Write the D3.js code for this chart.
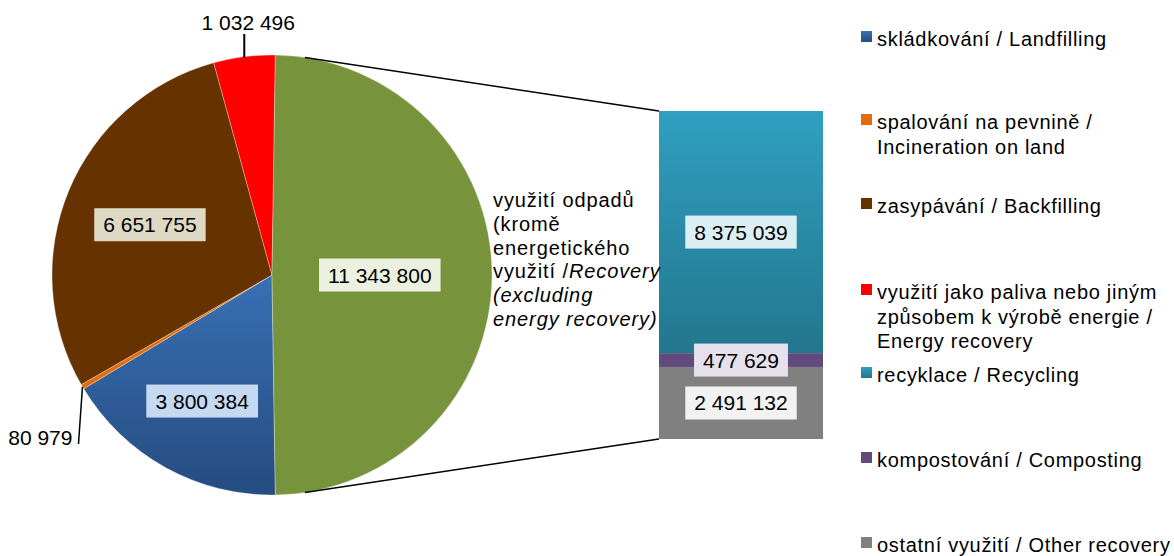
<!DOCTYPE html>
<html><head><meta charset="utf-8">
<script src="https://cdn.jsdelivr.net/npm/d3@7/dist/d3.min.js"></script>
<style>
body{margin:0;background:#fff;}
svg{display:block;font-family:"Liberation Sans",Arial,sans-serif;}
</style></head>
<body><svg id="chart" width="1174" height="556"></svg>
<script>
// ---- data ----
const pieCategories = ["skládkování / Landfilling","spalování na pevnině / Incineration on land","zasypávání / Backfilling","využití jako paliva nebo jiným způsobem k výrobě energie / Energy recovery","využití odpadů (kromě energetického využití) / Recovery (excluding energy recovery)"];
const pieValues = [3800384, 80979, 6651755, 1032496, 11343800];
const barCategories = ["recyklace / Recycling","kompostování / Composting","ostatní využití / Other recovery"];
const barValues = [8375039, 477629, 2491132];
const legendLabels = [
  ["skládkování / Landfilling"],
  ["spalování na pevnině /","Incineration on land"],
  ["zasypávání / Backfilling"],
  ["využití jako paliva nebo jiným","způsobem k výrobě energie /","Energy recovery"],
  ["recyklace / Recycling"],
  ["kompostování / Composting"],
  ["ostatní využití / Other recovery"]
];

// ---- styles ----
const pieColors = ["url(#gBlue)","#e46c0a","#663300","#ff0000","#77933c"];
const barColors = ["url(#gTeal)","#604a7b","#808080"];
const legendColors = ["url(#gBlue)","#e46c0a","#663300","#ff0000","url(#gTeal)","#604a7b","#808080"];
const boxFill = {0:"#c5d9f1",2:"#ddd9c4",4:"#ebf1de"};
const barBoxFill = ["#daeef3","#e5e0ec","#f2f2f2"];

const fmt = d3.formatLocale({decimal:",",thousands:" ",grouping:[3],currency:["",""]}).format(",d");
const svg = d3.select("#chart");
const defs = svg.append("defs");
function grad(id, c1, c2){
  const g = defs.append("linearGradient").attr("id",id).attr("x1",0).attr("y1",0).attr("x2",0).attr("y2",1);
  g.append("stop").attr("offset","0%").attr("stop-color",c1);
  g.append("stop").attr("offset","100%").attr("stop-color",c2);
}
grad("gBlue","#3870b5","#264c80");
grad("gTeal","#30a0c0","#23768e");

// ---- pie ----
const cx = 272, cy = 275, R = 220;
const total = d3.sum(pieValues);
const f = pieValues[4]/total;
const start = Math.PI/2 + Math.PI*f;
const pie = d3.pie().sort(null).value(d=>d).startAngle(start).endAngle(start + 2*Math.PI);
const arcs = pie(pieValues);
const arc = d3.arc().innerRadius(0).outerRadius(R);
const gp = svg.append("g").attr("transform",`translate(${cx},${cy})`);
gp.selectAll("path").data(arcs).join("path")
  .attr("d",arc).attr("fill",(d,i)=>pieColors[i])
  .attr("stroke","#ffffff").attr("stroke-opacity",0.5).attr("stroke-width",0.6);

// ---- bar ----
const barX = 659, barW = 164, barTop = 111, barBottom = 439;
const barTotal = d3.sum(barValues);
const y = d3.scaleLinear().domain([0, barTotal]).range([barBottom, barTop]);
// stack from bottom: other, composting, recycling
const stackOrder = [2,1,0];
let acc = 0; const segs = [];
stackOrder.forEach(i=>{ segs[i] = {i, y0:acc, y1:acc+barValues[i]}; acc += barValues[i]; });
const gb = svg.append("g");
gb.selectAll("rect").data(segs).join("rect")
  .attr("x",barX).attr("width",barW)
  .attr("y",d=>y(d.y1)).attr("height",d=>y(d.y0)-y(d.y1))
  .attr("fill",d=>barColors[d.i]);

// ---- connector lines (tangents from bar corners to circle) ----
function tangent(px, py, upper){
  const dx = px-cx, dy = py-cy, d = Math.hypot(dx,dy);
  const base = Math.atan2(dy,dx), a = Math.acos(R/d);
  const t = upper ? base - a : base + a;
  return [cx + R*Math.cos(t), cy + R*Math.sin(t)];
}
const tTop = tangent(barX, barTop, true), tBot = tangent(barX, barBottom, false);
svg.append("line").attr("x1",tTop[0]).attr("y1",tTop[1]).attr("x2",barX).attr("y2",barTop).attr("stroke","#000").attr("stroke-width",1.5);
svg.append("line").attr("x1",tBot[0]).attr("y1",tBot[1]).attr("x2",barX).attr("y2",barBottom).attr("stroke","#000").attr("stroke-width",1.5);

// ---- boxed labels ----
function boxLabel(g, x, yc, text, fill){
  const t = g.append("text").attr("x",x).attr("y",yc).attr("text-anchor","middle")
    .attr("dominant-baseline","central").attr("font-size",21).attr("fill","#000").text(text);
  const bb = t.node().getBBox();
  g.insert("rect","text:last-of-type").attr("x",x - bb.width/2 - 9).attr("y",yc-16.5)
    .attr("width",bb.width+18).attr("height",33).attr("fill",fill);
  t.raise();
}
const labelR = {0:0.655, 2:0.6, 4:0.49};
const gl = svg.append("g");
arcs.forEach((d,i)=>{
  if(labelR[i]===undefined) return;
  const a = (d.startAngle+d.endAngle)/2, r = R*labelR[i];
  const gg = gl.append("g");
  boxLabel(gg, cx + r*Math.sin(a), cy - r*Math.cos(a), fmt(d.value), boxFill[i]);
});
segs.forEach(d=>{
  const gg = gl.append("g");
  boxLabel(gg, barX+barW/2, (y(d.y0)+y(d.y1))/2, fmt(barValues[d.i]), barBoxFill[d.i]);
});

// ---- outside labels with leader lines ----
{ // energy recovery (index 3)
  const d = arcs[3], a = (d.startAngle+d.endAngle)/2;
  const px = cx + R*Math.sin(a), py = cy - R*Math.cos(a);
  svg.append("line").attr("x1",px).attr("y1",py+1).attr("x2",px).attr("y2",34).attr("stroke","#000").attr("stroke-width",2);
  svg.append("text").attr("x",px+4).attr("y",30).attr("text-anchor","middle").attr("font-size",21).text(fmt(d.value));
}
{ // incineration (index 1)
  const d = arcs[1], a = (d.startAngle+d.endAngle)/2;
  const px = cx + R*Math.sin(a), py = cy - R*Math.cos(a);
  svg.append("line").attr("x1",px).attr("y1",py).attr("x2",px-4).attr("y2",444).attr("stroke","#000").attr("stroke-width",1.5);
  svg.append("text").attr("x",px-10).attr("y",445).attr("text-anchor","end").attr("font-size",21).text(fmt(d.value));
}

// ---- recovery label ----
const rl = svg.append("text").attr("font-size",20).attr("letter-spacing",0.9).attr("fill","#000");
const rlLines = [
  [["využití odpadů",false]],
  [["(kromě",false]],
  [["energetického",false]],
  [["využití /",false],["Recovery",true]],
  [["(excluding",true]],
  [["energy recovery)",true]]
];
rlLines.forEach((ln,k)=>{
  ln.forEach((seg,j)=>{
    const ts = rl.append("tspan").text(seg[0]).attr("font-style",seg[1]?"italic":"normal");
    if(j===0) ts.attr("x",493).attr("y",207 + k*23.8);
  });
});

// ---- legend ----
const legendY = [46,129,213,299,382,467,552];
const lg = svg.append("g");
legendLabels.forEach((lines,i)=>{
  lg.append("rect").attr("x",861).attr("y",legendY[i]-15).attr("width",11).attr("height",11).attr("fill",legendColors[i]);
  const t = lg.append("text").attr("x",877).attr("y",legendY[i]).attr("font-size",20).attr("letter-spacing",0.7).attr("fill","#000");
  lines.forEach((l,k)=>t.append("tspan").attr("x",877).attr("y",legendY[i]+k*24.5).text(l));
});
</script></body></html>
